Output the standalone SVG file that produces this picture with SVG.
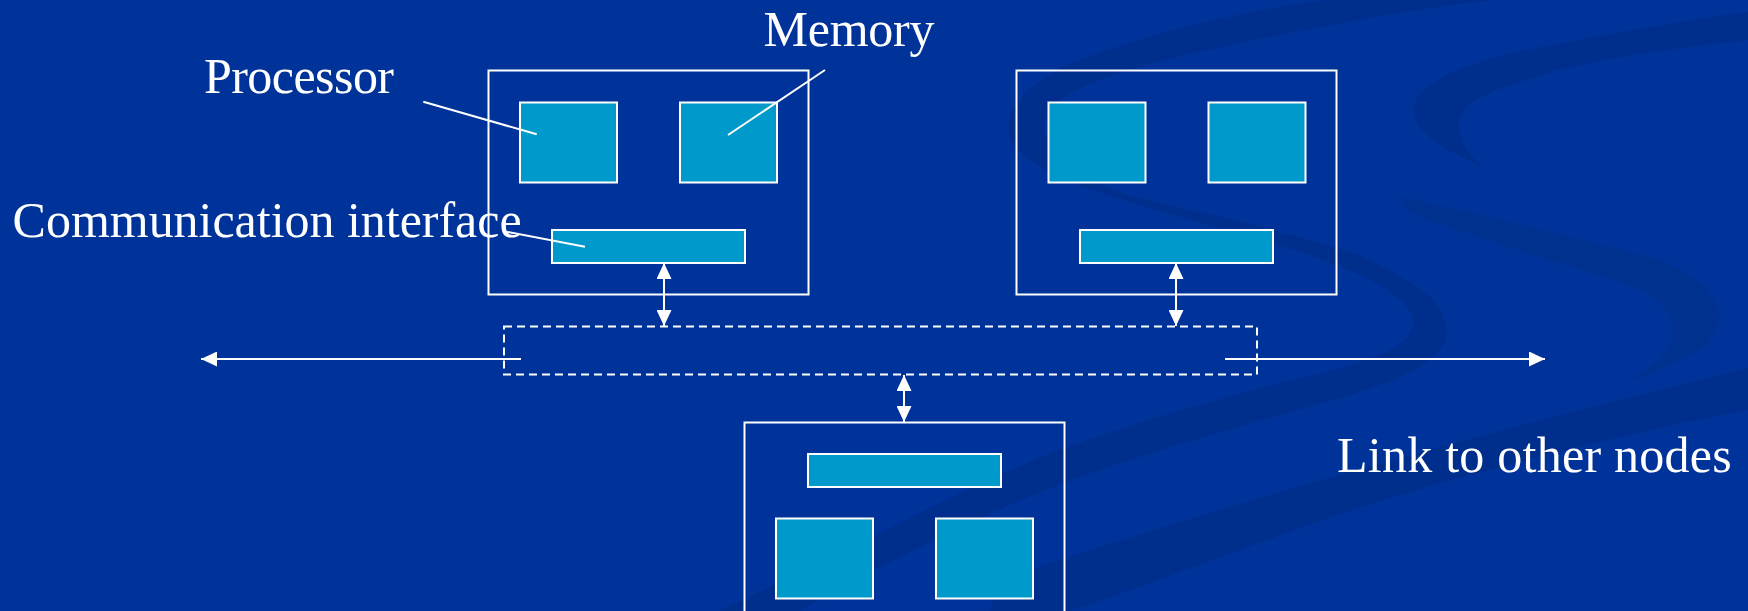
<svg xmlns="http://www.w3.org/2000/svg" width="1748" height="611" viewBox="0 0 1748 611">
  <style>
    .outer { fill: none; stroke: #ffffff; stroke-width: 2; }
    .unit { fill: #0099cc; stroke: #ffffff; stroke-width: 2; }
    .bus { fill: none; stroke: #ffffff; stroke-width: 2; stroke-dasharray: 8 5; }
    .conn { fill: none; stroke: #ffffff; stroke-width: 2; }
    .lead { fill: none; stroke: #ffffff; stroke-width: 2; }
    .lbl { font-family: "Liberation Serif", "Times New Roman", serif; font-size: 50px; fill: #ffffff; }
    .sw { fill: #002e8c; }
    .sw2 { fill: #00318f; }
  </style>
  <defs>
    <marker id="ah" viewBox="0 0 16 15" refX="16" refY="7.5" markerWidth="16" markerHeight="15" markerUnits="userSpaceOnUse" orient="auto-start-reverse">
      <path d="M0,0 L16,7.5 L0,15 Z" fill="#ffffff"/>
    </marker>
  </defs>

  <!-- background -->
  <rect x="0" y="0" width="1748" height="611" fill="#003399"/>
  <g id="background-swooshes">
    <!-- first S -->
    <path class="sw" d="M1330,0 C1250,8 1140,35 1067,65 C1030,82 1010,105 1008,125 C1006,145 1030,165 1070,182 C1130,205 1226,228 1300,252 C1360,272 1410,295 1413,320 C1415,345 1380,360 1293,380 C1226,397 1100,430 1004,473 C930,505 840,555 720,611 L800,611 C880,565 980,515 1071,480 C1150,452 1226,430 1326,402 C1400,382 1446,360 1446,333 C1446,300 1420,285 1359,255 C1300,235 1226,218 1140,198 C1090,185 1055,160 1045,135 C1040,110 1060,95 1100,80 C1160,58 1250,40 1359,20 C1400,12 1450,5 1493,0 Z"/>
    <!-- second S, top crescent -->
    <path class="sw" d="M1748,12 C1680,20 1580,40 1526,50 C1470,62 1425,80 1416,100 C1408,120 1420,140 1483,167 C1462,150 1455,130 1460,117 C1470,95 1510,85 1559,70 C1620,55 1700,45 1748,40 Z"/>
    <!-- second S, tail and turn -->
    <path class="sw2" d="M1399,197 C1470,212 1560,232 1659,260 C1700,275 1722,300 1719,322 C1714,345 1690,360 1626,382 C1660,365 1675,345 1673,328 C1670,310 1655,298 1643,290 C1580,270 1480,238 1409,213 Z"/>
    <!-- wide lower band -->
    <path class="sw" d="M1748,368 C1650,392 1500,430 1393,460 C1300,485 1100,545 1000,580 L990,611 L1070,611 C1150,585 1300,525 1393,497 C1500,465 1650,428 1748,410 Z"/>
  </g>

  <!-- nodes -->
  <g id="node1">
    <rect class="outer" x="488.5" y="70.5" width="320" height="224"/>
    <rect class="unit" x="520" y="102.5" width="97" height="80"/>
    <rect class="unit" x="680" y="102.5" width="97" height="80"/>
    <rect class="unit" x="552" y="230" width="193" height="33"/>
  </g>
  <g id="node2">
    <rect class="outer" x="1016.5" y="70.5" width="320" height="224"/>
    <rect class="unit" x="1048.5" y="102.5" width="97" height="80"/>
    <rect class="unit" x="1208.5" y="102.5" width="97" height="80"/>
    <rect class="unit" x="1080" y="230" width="193" height="33"/>
  </g>
  <g id="node3">
    <rect class="outer" x="744.5" y="422.5" width="320" height="224"/>
    <rect class="unit" x="808" y="454" width="193" height="33"/>
    <rect class="unit" x="776" y="518.5" width="97" height="80"/>
    <rect class="unit" x="936" y="518.5" width="97" height="80"/>
  </g>
  <g id="network">
    <rect class="bus" x="504" y="326.5" width="753" height="48"/>
  </g>

  <!-- connectors -->
  <g id="connectors">
    <line class="conn" x1="664" y1="263" x2="664" y2="326" marker-start="url(#ah)" marker-end="url(#ah)"/>
    <line class="conn" x1="1176" y1="263" x2="1176" y2="326" marker-start="url(#ah)" marker-end="url(#ah)"/>
    <line class="conn" x1="904" y1="375" x2="904" y2="422" marker-start="url(#ah)" marker-end="url(#ah)"/>
    <line class="conn" x1="521" y1="359" x2="201" y2="359" marker-end="url(#ah)"/>
    <line class="conn" x1="1225" y1="359" x2="1545" y2="359" marker-end="url(#ah)"/>
    <line class="lead" x1="423.3" y1="101.7" x2="536.7" y2="134.3"/>
    <line class="lead" x1="825" y1="70" x2="728" y2="135"/>
    <line class="lead" x1="506" y1="231.7" x2="585" y2="246.7"/>
  </g>

  <!-- labels -->
  <g id="labels">
    <text class="lbl" x="204" y="92.7" textLength="190">Processor</text>
    <text class="lbl" x="763.5" y="45.7" textLength="171">Memory</text>
    <text class="lbl" x="12.6" y="237.3" textLength="509">Communication interface</text>
    <text class="lbl" x="1337" y="471.7" textLength="394.7">Link to other nodes</text>
  </g>
</svg>
